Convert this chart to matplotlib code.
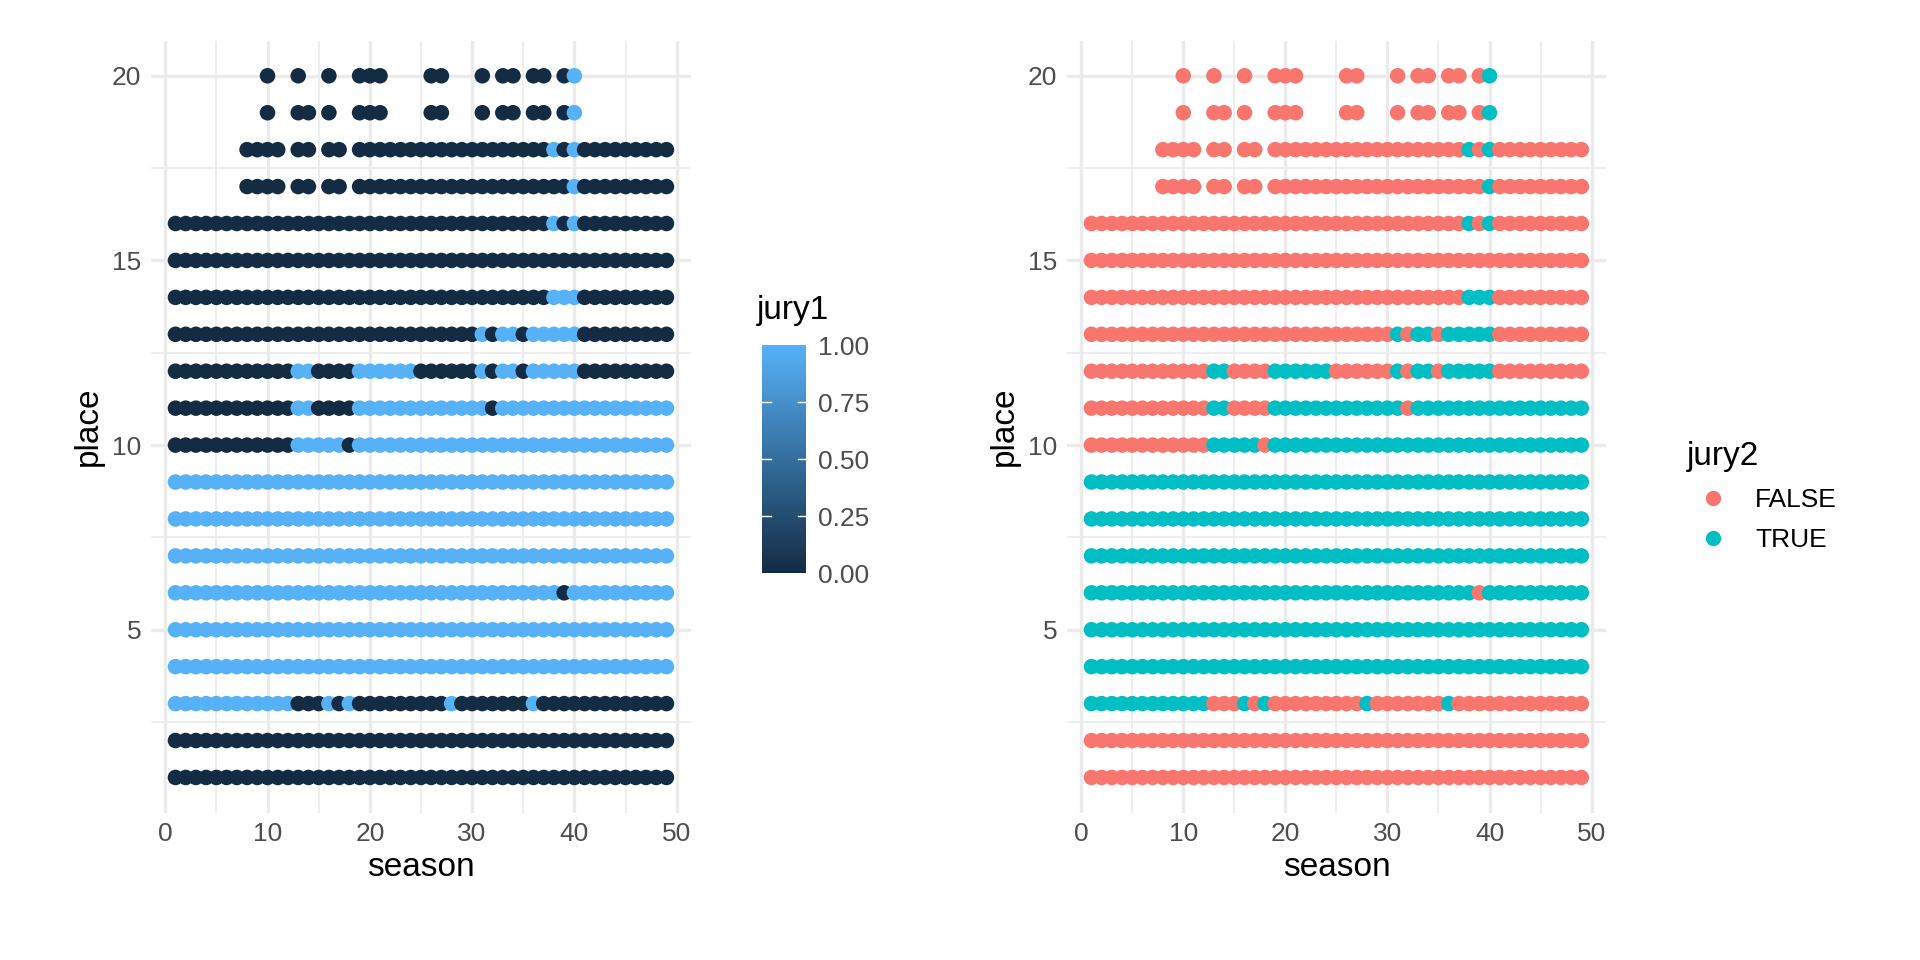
import matplotlib
matplotlib.use("Agg")
import matplotlib.pyplot as plt
from matplotlib.colors import LinearSegmentedColormap
from matplotlib.lines import Line2D
import numpy as np

plt.rcParams['font.family'] = ['Liberation Sans', 'DejaVu Sans']

def rng(a, b):
    return list(range(a, b + 1))

ALL = rng(1, 49)
# seasons present for each place
seasons_by_place = {p: ALL for p in range(1, 17)}
seasons_by_place[17] = rng(8, 11) + [13, 14, 16, 17] + rng(19, 49)
seasons_by_place[18] = rng(8, 11) + [13, 14, 16, 17] + rng(19, 49)
seasons_by_place[19] = [10, 13, 14, 16, 19, 20, 21, 26, 27, 31, 33, 34, 36, 37, 39, 40]
seasons_by_place[20] = [10, 13, 16, 19, 20, 21, 26, 27, 31, 33, 34, 36, 37, 39, 40]

# seasons in which the place was on the jury
jury_by_place = {
    1: [], 2: [],
    3: rng(1, 12) + [16, 18, 28, 36],
    4: ALL, 5: ALL,
    6: [s for s in ALL if s != 39],
    7: ALL, 8: ALL, 9: ALL,
    10: rng(13, 17) + rng(19, 49),
    11: [13, 14] + rng(19, 31) + rng(33, 49),
    12: [13, 14] + rng(19, 24) + [31, 33, 34] + rng(36, 40),
    13: [31, 33, 34] + rng(36, 40),
    14: [38, 39, 40],
    15: [],
    16: [38, 40],
    17: [40],
    18: [38, 40],
    19: [40],
    20: [40],
}

season, place, jury = [], [], []
for p in range(1, 21):
    for s in seasons_by_place[p]:
        season.append(s); place.append(p); jury.append(s in jury_by_place[p])
season = np.array(season); place = np.array(place); jury = np.array(jury)

fig = plt.figure(figsize=(19.2, 9.6), dpi=100)
fig.patch.set_facecolor("white")
axL = fig.add_axes([0.0786, 0.1536, 0.2813, 0.804])
axR = fig.add_axes([0.5557, 0.1536, 0.2807, 0.804])

def style(ax):
    ax.set_xlim(-1.4, 51.4); ax.set_ylim(0.05, 20.95)
    ax.set_xticks([0, 10, 20, 30, 40, 50]); ax.set_yticks([5, 10, 15, 20])
    ax.set_xticks([5, 15, 25, 35, 45], minor=True)
    ax.set_yticks([2.5, 7.5, 12.5, 17.5], minor=True)
    ax.grid(which="major", color="#EBEBEB", lw=2.4)
    ax.grid(which="minor", color="#EBEBEB", lw=1.2)
    ax.set_axisbelow(True)
    for sp in ax.spines.values(): sp.set_visible(False)
    ax.tick_params(which="both", length=0, labelsize=19, labelcolor="#4D4D4D", pad=7)
    ax.set_xlabel("season", fontsize=24, labelpad=4)
    ax.set_ylabel("place", fontsize=24, labelpad=6)

cmap = LinearSegmentedColormap.from_list("g", ["#132B43", "#56B1F7"])
sc = axL.scatter(season, place, c=jury.astype(float), cmap=cmap, vmin=0, vmax=1, s=125, linewidths=0)
style(axL)
cax = fig.add_axes([0.397, 0.403, 0.023, 0.2375])
cb = fig.colorbar(sc, cax=cax, ticks=[0, 0.25, 0.5, 0.75, 1.0])
cb.ax.set_yticklabels(["0.00", "0.25", "0.50", "0.75", "1.00"])
cb.outline.set_visible(False)
cb.ax.tick_params(labelsize=19, labelcolor="#4D4D4D", length=0, pad=8)
for t in [0.25, 0.5, 0.75]:
    cb.ax.axhline(t, xmin=0, xmax=0.2, color="white", lw=1)
    cb.ax.axhline(t, xmin=0.8, xmax=1, color="white", lw=1)
fig.text(0.394, 0.66, "jury1", fontsize=24, ha="left", va="bottom")

cols = np.where(jury, "#00BFC4", "#F8766D")
axR.scatter(season, place, c=cols, s=125, linewidths=0)
style(axR)
handles = [Line2D([], [], marker="o", ls="", color="#F8766D", markersize=10),
           Line2D([], [], marker="o", ls="", color="#00BFC4", markersize=10)]
leg = fig.legend(handles, ["FALSE", "TRUE"], loc="upper left", bbox_to_anchor=(0.866, 0.565),
                 frameon=False, fontsize=19, title="jury2", title_fontsize=24,
                 handletextpad=0.6, labelspacing=0.6, alignment="left")

fig.savefig("out.png", dpi=100, facecolor="white")
